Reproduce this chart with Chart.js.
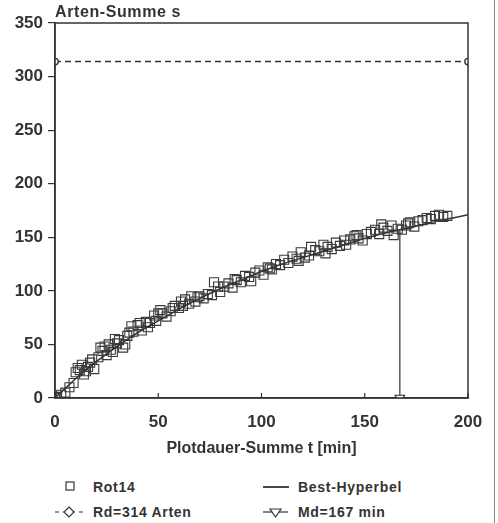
<!DOCTYPE html>
<html>
<head>
<meta charset="utf-8">
<script src="https://cdn.jsdelivr.net/npm/chart.js@4.4.1/dist/chart.umd.min.js"></script>
<style>
  body { margin: 0; background: #fff; }
  #wrap { position: relative; width: 494px; height: 523px; border-right: 1px solid #888; }
  #c { position: absolute; left: 0; top: 0; }
  .leg { position: absolute; font: bold 14px Arial, "Liberation Sans", sans-serif; color: #333; letter-spacing: 0.7px; white-space: nowrap; }
</style>
</head>
<body>
<div id="wrap">
  <canvas id="c" width="494" height="462"></canvas>
  <div class="leg" style="left:93px; top:479px;">Rot14</div>
  <div class="leg" style="left:298px; top:479px;">Best-Hyperbel</div>
  <div class="leg" style="left:93px; top:504px;">Rd=314 Arten</div>
  <div class="leg" style="left:298px; top:504px;">Md=167 min</div>
  <svg width="494" height="523" style="position:absolute;left:0;top:0;pointer-events:none">
    <rect x="66" y="482" width="8" height="8" fill="none" stroke="#333" stroke-width="1.2"/>
    <line x1="263" y1="487" x2="289" y2="487" stroke="#333" stroke-width="1.8"/>
    <line x1="55" y1="512" x2="83" y2="512" stroke="#333" stroke-width="1.2" stroke-dasharray="4,4"/>
    <polygon points="69,507 74,512 69,517 64,512" fill="#fff" stroke="#333" stroke-width="1.2"/>
    <line x1="263" y1="512" x2="288" y2="512" stroke="#333" stroke-width="1.2"/>
    <polygon points="270,509 281,509 275.5,517" fill="#fff" stroke="#333" stroke-width="1.2"/>
  </svg>
</div>
<script>
// observed species sums (Rot14)
const obsT = [0, 1, 3, 5, 7, 9, 10, 11, 12, 13, 14, 15, 16, 17, 19, 21, 22, 23, 24, 25,
  26, 27, 28, 30, 31, 33, 35, 36, 37, 38, 40, 41, 42, 44, 46, 48, 49, 50, 51, 52,
  54, 56, 58, 60, 61, 62, 63, 65, 66, 68, 70, 72, 74, 76, 77, 79, 80, 82, 84, 86,
  88, 90, 92, 94, 95, 97, 99, 101, 103, 105, 107, 109, 111, 113, 115, 117, 119, 121, 123, 124,
  126, 128, 130, 132, 134, 136, 138, 140, 141, 143, 145, 147, 149, 151, 153, 155, 157, 159, 161, 163,
  164, 166, 168, 170, 172, 174, 176, 178, 180, 182, 184, 186, 188, 190,
  18, 29, 34, 45, 57, 69, 87, 104, 118, 131, 146, 158, 171];
const obsS = [0, 1, 3, 5, 10, 14, 24, 28, 26, 31, 22, 25, 29, 33, 27, 38, 47, 44, 48, 40,
  50, 45, 43, 51, 54, 47, 58, 61, 67, 62, 68, 70, 63, 71, 70, 77, 72, 79, 82, 79,
  76, 81, 86, 84, 90, 86, 92, 88, 95, 90, 95, 93, 97, 96, 108, 104, 99, 104, 107, 103,
  110, 108, 114, 113, 109, 117, 119, 115, 122, 120, 125, 124, 129, 126, 132, 130, 136, 131, 133, 141,
  138, 137, 143, 141, 139, 145, 142, 147, 143, 148, 151, 149, 147, 153, 155, 157, 153, 159, 156, 161,
  152, 158, 157, 161, 164, 160, 165, 166, 168, 167, 170, 171, 169, 170,
  36, 55, 50, 66, 84, 94, 111, 121, 128, 135, 152, 162, 163];

// best hyperbola
const fitT = [0, 5, 10, 20, 30, 40, 50, 60, 70, 80, 90, 100, 110, 120, 130, 140, 150, 160, 167, 170, 180, 190, 200];
const fitS = [0, 9, 18, 34, 48, 61, 72, 83, 93, 102, 110, 118, 125, 131, 137, 143, 149, 154, 157, 158, 163, 167, 171];

const rdT = [0, 200];
const rdS = [314, 314];
const mdT = [167, 167];
const mdS = [157, 0];

const xTicks = [0, 50, 100, 150, 200];
const xTitle = 'Plotdauer-Summe t [min]';
const yTitle = 'Arten-Summe s';

const ink = '#333';
const pts = (xs, ys) => xs.map((x, i) => ({ x: x, y: ys[i] }));

const frame = {
  id: 'frame',
  afterDraw(chart) {
    const { ctx, chartArea: a, scales: { x } } = chart;
    ctx.save();
    ctx.strokeStyle = ink;
    ctx.lineWidth = 1.5;
    ctx.strokeRect(a.left, a.top, a.right - a.left, a.bottom - a.top);
    ctx.lineWidth = 1.2;
    xTicks.forEach(v => {
      const px = x.getPixelForValue(v);
      ctx.beginPath();
      ctx.moveTo(px, a.bottom);
      ctx.lineTo(px, a.bottom - 5);
      ctx.stroke();
    });
    ctx.font = 'bold 16px Arial, "Liberation Sans", sans-serif';
    ctx.fillStyle = ink;
    ctx.textBaseline = 'alphabetic';
    if ('letterSpacing' in ctx) ctx.letterSpacing = '0.6px';
    ctx.fillText(yTitle, a.left, a.top - 6);
    ctx.restore();
  }
};

new Chart(document.getElementById('c'), {
  type: 'scatter',
  data: {
    datasets: [
      {
        label: 'Rot14',
        data: pts(obsT, obsS),
        pointStyle: 'rect',
        pointRadius: 6.4,
        borderColor: '#3a3a3a',
        backgroundColor: 'rgba(0,0,0,0)',
        borderWidth: 1.1,
        order: 2
      },
      {
        label: 'Best-Hyperbel',
        data: pts(fitT, fitS),
        showLine: true,
        tension: 0.3,
        pointRadius: 0,
        borderColor: ink,
        borderWidth: 1.5,
        order: 1
      },
      {
        label: 'Rd=314 Arten',
        data: pts(rdT, rdS),
        showLine: true,
        borderDash: [6, 4],
        borderColor: ink,
        borderWidth: 1.4,
        pointStyle: 'circle',
        pointRadius: 3.2,
        pointBackgroundColor: '#fff',
        pointBorderColor: ink,
        order: 1
      },
      {
        label: 'Md=167 min',
        data: pts(mdT, mdS),
        showLine: true,
        borderColor: ink,
        borderWidth: 1.2,
        pointStyle: 'triangle',
        rotation: 180,
        pointRadius: [0, 5.5],
        pointBackgroundColor: '#fff',
        pointBorderColor: ink,
        order: 1
      }
    ]
  },
  options: {
    responsive: false,
    animation: false,
    layout: { padding: { top: 23, right: 26, left: 0, bottom: 0 } },
    plugins: { legend: { display: false }, tooltip: { enabled: false } },
    scales: {
      x: {
        type: 'linear',
        min: 0, max: 200,
        afterBuildTicks: s => { s.ticks = xTicks.map(v => ({ value: v })); },
        afterFit: s => { s.height = 64; s.paddingRight = 0; s.paddingLeft = 0; },
        grid: { display: false, drawTicks: false },
        border: { display: true, color: ink, width: 1.5 },
        ticks: { padding: 14, color: ink, font: { family: 'Arial, "Liberation Sans", sans-serif', size: 17, weight: 'bold' } },
        title: {
          display: true, text: xTitle, color: ink, padding: { top: 6 },
          font: { family: 'Arial, "Liberation Sans", sans-serif', size: 16, weight: 'bold' }
        }
      },
      y: {
        min: 0, max: 350,
        afterFit: s => { s.width = 55; },
        grid: { drawOnChartArea: false, drawTicks: true, tickLength: 7, color: ink, lineWidth: 1.2 },
        border: { display: true, color: ink, width: 1.5 },
        ticks: { stepSize: 50, padding: 5, color: ink, font: { family: 'Arial, "Liberation Sans", sans-serif', size: 17, weight: 'bold' } }
      }
    }
  },
  plugins: [frame]
});
</script>
</body>
</html>
